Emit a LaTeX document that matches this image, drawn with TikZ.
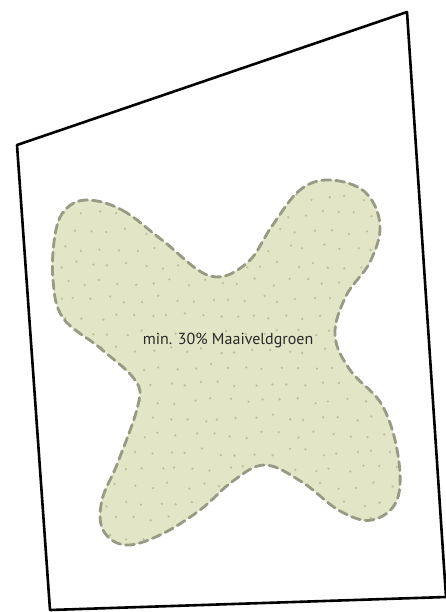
\documentclass[tikz,border=0pt]{standalone}
\usepackage{fontspec}
\newfontfamily\labelfont{PT Sans}
\definecolor{blobfill}{HTML}{E3E6C6}
\definecolor{blobline}{HTML}{979B83}
\definecolor{blobdot}{HTML}{BDC19F}
\definecolor{labeltext}{HTML}{2A2A2A}
\tikzset{
  plotline/.style={line width=2.6pt, line join=round, black},
  greenline/.style={line width=2.8pt, blobline, dash pattern=on 9pt off 5pt, line cap=round},
  greenfill/.style={fill=blobfill},
  dotstyle/.style={fill=blobdot},
  labelstyle/.style={font=\labelfont\fontsize{16}{19}\selectfont, text=labeltext, inner sep=0pt}
}
\def\blobpath{plot[smooth cycle, tension=0.62] coordinates {
 (87,200) (122,210) (162,240) (210,276) (247,263) (272,226) (300,190) (330,180) (365,192) (380,225) (370,262) (346,296) (335,335) (350,370) (382,405) (398,455) (397,500) (372,520) (340,511) (302,482) (265,465) (233,481) (200,510) (160,535) (125,545) (103,530) (102,500) (118,462) (138,405) (135,380) (100,348) (63,318) (53,280) (55,235) (65,210)
}}
\begin{document}
\begin{tikzpicture}[x=1pt,y=-1pt]
\useasboundingbox (0,0) rectangle (446,612);
\fill[white] (0,0) rectangle (446,612);
% plot outline
\coordinate (tl) at (17,145);
\coordinate (tr) at (407,12);
\coordinate (br) at (446,597);
\coordinate (bl) at (50,610);
\draw[plotline] (tl) -- (tr) -- (br) -- (bl) -- cycle;
% green area
\fill[greenfill] \blobpath;
\begin{scope}
\clip \blobpath;
\pgfmathsetseed{7}
\foreach \r in {0,...,21}{
  \foreach \c in {0,...,21}{
    \pgfmathsetmacro{\px}{50+\c*17+mod(\r,2)*8.5+3.5*rand}
    \pgfmathsetmacro{\py}{180+\r*17+3.5*rand}
    \fill[dotstyle] (\px,\py) circle (1.3pt);
  }
}
\end{scope}
\draw[greenline] \blobpath;
\node[labelstyle] (lbl) at (228,340) {min. 30\% Maaiveldgroen};
\end{tikzpicture}
\end{document}
